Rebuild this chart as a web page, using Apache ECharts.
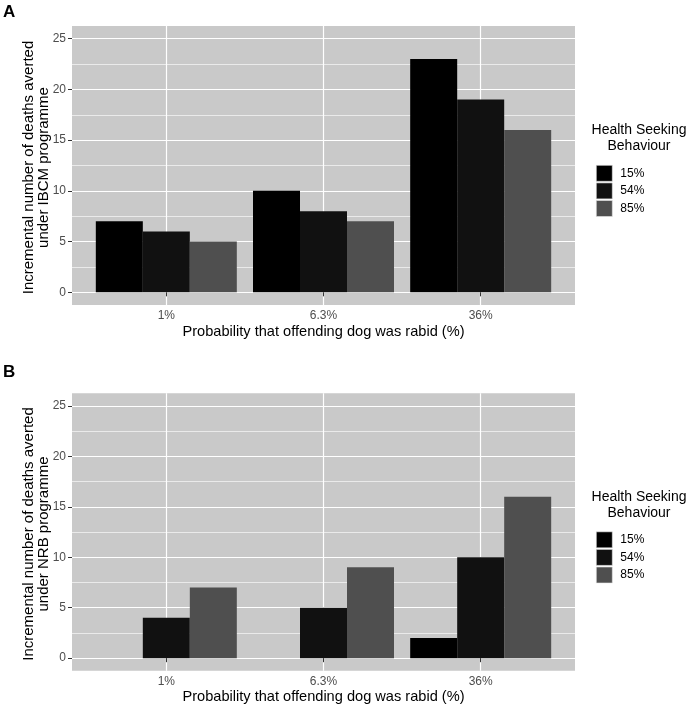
<!DOCTYPE html>
<html>
<head>
<meta charset="utf-8">
<script src="https://cdn.jsdelivr.net/npm/echarts@6/dist/echarts.min.js"></script>
<style>
  html, body { margin: 0; padding: 0; background: #ffffff; }
  #chart { width: 690px; height: 709px; }
</style>
</head>
<body>
<div id="chart"></div>
<script>
// ---- data ----
const categories = ['1%', '6.3%', '36%'];
const groups = ['15%', '54%', '85%'];
const ibcm15 = [7, 10, 23];
const ibcm54 = [6, 8, 19];
const ibcm85 = [5, 7, 16];
const nrb15 = [0, 0, 2];
const nrb54 = [4, 5, 10];
const nrb85 = [7, 9, 16];
const yTicks = [0, 5, 10, 15, 20, 25];
const yMinorTicks = [2.5, 7.5, 12.5, 17.5, 22.5];
const xTicks = [1, 2, 3];

const colors = ['#000000', '#111111', '#4f4f4f'];
const FONT = 'Liberation Sans, Arial, sans-serif';
const panelBg = '#c9c9c9';

const chart = echarts.init(document.getElementById('chart'), null, { renderer: 'canvas' });

const grids = [
  { left: 72, top: 26, width: 503, height: 279 },
  { left: 72, top: 393.3, width: 503, height: 277.5 }
];

function xAxisFor(gi) {
  return {
    type: 'value', gridIndex: gi, min: 0.4, max: 3.6,
    axisLine: { show: false },
    axisTick: { show: true, customValues: xTicks, length: 4, lineStyle: { color: '#333333', width: 1 } },
    axisLabel: {
      customValues: xTicks, margin: 5, color: '#4d4d4d', fontSize: 12, fontFamily: FONT,
      formatter: v => categories[Math.round(v) - 1] || ''
    },
    splitLine: { show: true, lineStyle: { color: '#ffffff', width: 1.2 } },
    name: 'Probability that offending dog was rabid (%)',
    nameLocation: 'middle', nameGap: 19,
    nameTextStyle: { color: '#000000', fontSize: 14.6, fontFamily: FONT, verticalAlign: 'top' }
  };
}
function yAxisFor(gi) {
  return {
    type: 'value', gridIndex: gi, min: -1.25, max: 26.25,
    axisLine: { show: false },
    axisTick: { show: true, customValues: yTicks, length: 4, lineStyle: { color: '#333333', width: 1 } },
    axisLabel: { customValues: yTicks, margin: 6, color: '#4d4d4d', fontSize: 12, fontFamily: FONT },
    splitLine: { show: true, lineStyle: { color: '#ffffff', width: 1.2 } }
  };
}
function yMinorFor(gi) {
  return {
    type: 'value', gridIndex: gi, min: -1.25, max: 26.25, position: 'left',
    axisLine: { show: false },
    axisTick: { show: false, customValues: yMinorTicks },
    axisLabel: { show: false, customValues: yMinorTicks },
    splitLine: { show: true, lineStyle: { color: '#f2f2f2', width: 0.8 } }
  };
}

function barSeries(name, arr, gi, color) {
  return {
    type: 'bar', name: name, xAxisIndex: gi, yAxisIndex: gi * 2,
    data: arr.map((v, i) => [xTicks[i], v]),
    barWidth: 47, barGap: '0%',
    itemStyle: { color: color },
    emphasis: { disabled: true },
    silent: true
  };
}

const legendBase = {
  orient: 'vertical', left: 591, itemWidth: 16, itemHeight: 16, itemGap: 1,
  icon: 'rect', selectedMode: false, data: groups,
  itemStyle: { borderColor: '#e6e6e6', borderWidth: 0.6 },
  textStyle: { color: '#000000', fontSize: 12, fontFamily: FONT, padding: [0, 0, 0, 3] }
};

function yTitle(lines, cx, cy) {
  return {
    type: 'text', x: cx, y: cy, rotation: Math.PI / 2,
    style: {
      text: lines, textAlign: 'center', textVerticalAlign: 'middle',
      font: '15px ' + FONT, fill: '#000000', lineHeight: 15.5
    }
  };
}
function legendTitle(cy) {
  return {
    type: 'text', x: 639, y: cy,
    style: {
      text: 'Health Seeking\nBehaviour', textAlign: 'center', textVerticalAlign: 'top',
      font: '14px ' + FONT, fill: '#000000', lineHeight: 16
    }
  };
}

const option = {
  animation: false,
  backgroundColor: '#ffffff',
  grid: grids.map(g => Object.assign({ show: true, backgroundColor: panelBg, borderWidth: 0, containLabel: false }, g)),
  xAxis: [xAxisFor(0), xAxisFor(1)],
  yAxis: [yAxisFor(0), yMinorFor(0), yAxisFor(1), yMinorFor(1)],
  legend: [
    Object.assign({ top: 160 }, legendBase),
    Object.assign({ top: 526.5 }, legendBase)
  ],
  series: [
    barSeries(groups[0], ibcm15, 0, colors[0]),
    barSeries(groups[1], ibcm54, 0, colors[1]),
    barSeries(groups[2], ibcm85, 0, colors[2]),
    barSeries(groups[0], nrb15, 1, colors[0]),
    barSeries(groups[1], nrb54, 1, colors[1]),
    barSeries(groups[2], nrb85, 1, colors[2])
  ],
  graphic: [
    { type: 'text', left: 3, top: 4, style: { text: 'A', font: 'bold 17px ' + FONT, fill: '#000000' } },
    { type: 'text', left: 3, top: 364, style: { text: 'B', font: 'bold 17px ' + FONT, fill: '#000000' } },
    yTitle('Incremental number of deaths averted\nunder IBCM programme', 36.5, 167.5),
    yTitle('Incremental number of deaths averted\nunder NRB programme', 36.5, 534),
    legendTitle(122),
    legendTitle(489)
  ]
};
chart.setOption(option);
</script>
</body>
</html>
